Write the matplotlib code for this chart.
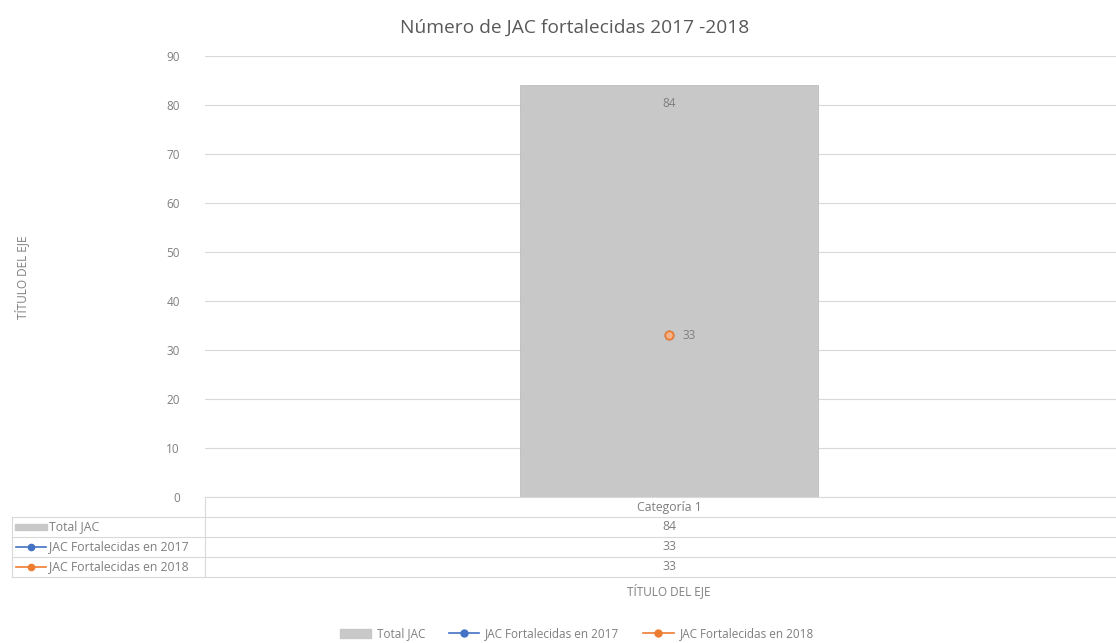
import matplotlib.pyplot as plt
from matplotlib.lines import Line2D
from matplotlib.patches import Rectangle

# datos
categorias = ["Categoría 1"]
total_jac = [84]
jac_2017 = [33]
jac_2018 = [33]
series = ["Total JAC", "JAC Fortalecidas en 2017", "JAC Fortalecidas en 2018"]

gris_barra = "#c8c8c8"
azul = "#4472c4"
naranja = "#ed7d31"
texto = "#7f7f7f"
linea = "#d9d9d9"

plt.rcParams["font.family"] = ["Open Sans", "DejaVu Sans"]

W, H = 1116, 643
fig = plt.figure(figsize=(W / 100, H / 100), dpi=100)

def fx(px):
    return px / W

def fy(py):
    return 1 - py / H

ax = fig.add_axes([fx(205), fy(497), fx(1116) - fx(205), fy(56) - fy(497)])

x = list(range(len(categorias)))
ax.bar(x, total_jac, width=0.327, color=gris_barra, edgecolor="#bdbdbd", linewidth=0.6, zorder=2)
ax.plot(x, jac_2017, marker="o", color=azul, markersize=6, markerfacecolor="#f0c0a0", zorder=3)
ax.plot(x, jac_2018, marker="o", color=naranja, markersize=6, markeredgewidth=1.3,
        markerfacecolor="#f3b48d", zorder=4)

for xi, v in zip(x, total_jac):
    ax.annotate(str(v), (xi, v), xytext=(0, -13), textcoords="offset points",
                ha="center", va="center", fontsize=8.5, color=texto)
for xi, v in zip(x, jac_2018):
    ax.annotate(str(v), (xi, v), xytext=(15, 0), textcoords="offset points",
                ha="center", va="center", fontsize=8.5, color=texto)

ax.set_xlim(-0.509, 0.491)
ax.set_ylim(0, 90)
ax.set_yticks(range(0, 91, 10))
ax.tick_params(axis="y", length=0, labelsize=8.5, labelcolor=texto, pad=18)
ax.set_xticks([])
ax.grid(axis="y", color=linea, linewidth=0.8, zorder=0)
ax.set_axisbelow(True)
for s in ["top", "right", "left"]:
    ax.spines[s].set_visible(False)
ax.spines["bottom"].set_color(linea)

fig.text(fx(575), fy(28), "Número de JAC fortalecidas 2017 -2018", ha="center", va="center",
         fontsize=13.8, color="#595959")
fig.text(fx(22), fy(277), "TÍTULO DEL EJE", rotation=90, ha="center", va="center",
         fontsize=8.5, color=texto)

# tabla de datos
filas_y = [527, 547, 567]
for py in [517, 537, 557, 577]:
    fig.add_artist(Line2D([fx(12), fx(1116)], [fy(py), fy(py)], color=linea, linewidth=0.8))
fig.add_artist(Line2D([fx(205), fx(205)], [fy(497), fy(577)], color=linea, linewidth=0.8))
fig.add_artist(Line2D([fx(12), fx(12)], [fy(517), fy(577)], color=linea, linewidth=0.8))

cx = fx(669)
fig.text(cx, fy(507), categorias[0], ha="center", va="center", fontsize=8.8, color=texto)
valores = [total_jac[0], jac_2017[0], jac_2018[0]]
for py, v in zip(filas_y, valores):
    fig.text(cx, fy(py), str(v), ha="center", va="center", fontsize=8.8, color=texto)

fig.add_artist(Rectangle((fx(15), fy(530)), fx(32), fy(524) - fy(530), color=gris_barra))
for py, c in [(547, azul), (567, naranja)]:
    fig.add_artist(Line2D([fx(16), fx(46)], [fy(py), fy(py)], color=c, linewidth=1.2))
    fig.add_artist(Line2D([fx(31)], [fy(py)], marker="o", color=c, markersize=4.5,
                          markerfacecolor=c))
for py, nombre in zip(filas_y, series):
    fig.text(fx(49), fy(py), nombre, ha="left", va="center", fontsize=8.8, color=texto)

fig.text(cx, fy(591), "TÍTULO DEL EJE", ha="center", va="center", fontsize=8.5, color=texto)

handles = [
    Rectangle((0, 0), 1, 1, color=gris_barra),
    Line2D([], [], color=azul, marker="o", markersize=5, linewidth=1.2),
    Line2D([], [], color=naranja, marker="o", markersize=5, linewidth=1.2),
]
fig.legend(handles, series, loc="center", bbox_to_anchor=(fx(577), fy(634)), ncol=3,
           frameon=False, fontsize=8.5, labelcolor=texto, handlelength=2.6,
           columnspacing=2.0, handletextpad=0.5)

fig.savefig("out.png", dpi=100, facecolor="white")
